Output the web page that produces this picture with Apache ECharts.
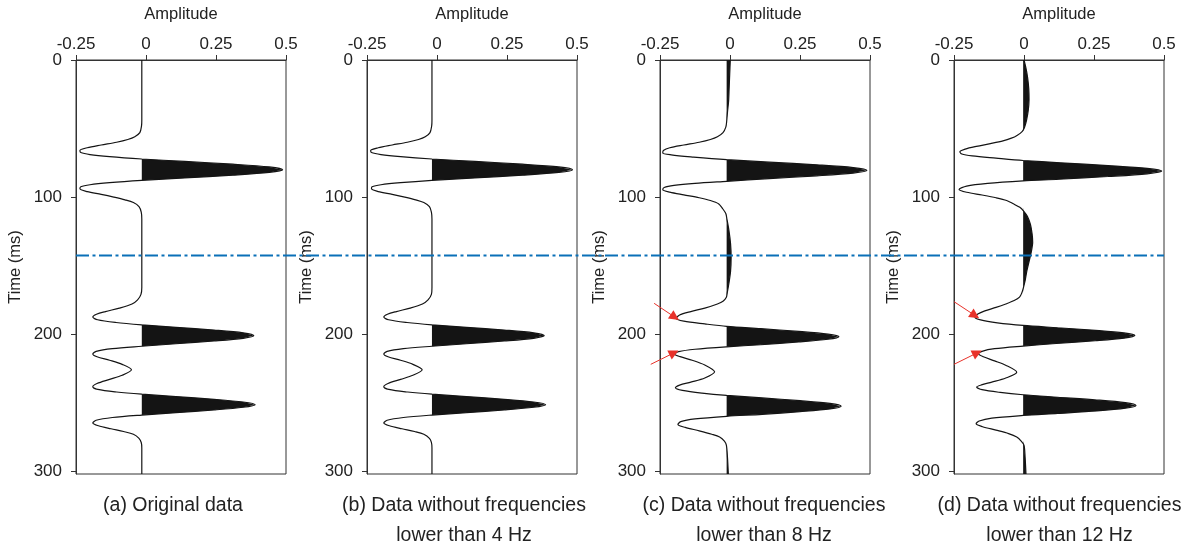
<!DOCTYPE html>
<html>
<head>
<meta charset="utf-8">
<script src="https://cdn.jsdelivr.net/npm/echarts@6/dist/echarts.min.js"></script>
<style>
  html, body { margin: 0; padding: 0; background: #fff; }
  #chart { width: 1190px; height: 553px; }
</style>
</head>
<body>
<div id="chart"></div>
<script>
// [time (ms), amplitude]
const traceA = [
  [0, -0.015], [44, -0.015], [48, -0.016], [53, -0.022], [56, -0.04], [58, -0.065], [60, -0.105], [62, -0.16],
  [64, -0.21], [66, -0.236], [67.5, -0.233], [69, -0.2], [70.5, -0.13], [72.2, -0.015], [74, 0.138], [76, 0.31],
  [78, 0.44], [80, 0.488], [82, 0.44], [84, 0.31], [86, 0.138], [87.8, -0.015], [89.5, -0.13], [91, -0.2],
  [92.5, -0.233], [94, -0.236], [96, -0.21], [98, -0.16], [100, -0.115], [102, -0.075], [104, -0.045], [107, -0.025],
  [111, -0.017], [116, -0.015], [166, -0.015], [171, -0.018], [175, -0.03], [178, -0.05], [181, -0.095], [183.5, -0.145],
  [185.5, -0.177], [187.5, -0.19], [189.5, -0.173], [191.5, -0.107], [193.2, -0.015], [195, 0.107], [197, 0.243], [199, 0.347],
  [201, 0.385], [203, 0.347], [205, 0.243], [207, 0.107], [208.8, -0.015], [210.5, -0.12], [212.5, -0.178], [214.5, -0.19],
  [216.5, -0.175], [219, -0.13], [222, -0.085], [226, -0.052], [230, -0.085], [233, -0.13], [236, -0.175], [238.3, -0.19],
  [240.3, -0.172], [242.2, -0.105], [243.8, -0.015], [245.5, 0.107], [247.5, 0.243], [249.5, 0.347], [251.4, 0.39], [253.3, 0.347],
  [255.3, 0.243], [257.3, 0.107], [259, -0.015], [260.8, -0.12], [262.8, -0.178], [264.8, -0.19], [266.8, -0.17], [269, -0.125],
  [271, -0.08], [273, -0.045], [276, -0.025], [279, -0.017], [283, -0.015], [302, -0.015]
];
const traceB = [
  [0, -0.018], [44, -0.018], [48, -0.019], [53, -0.025], [56, -0.042], [58, -0.066], [60, -0.106], [62, -0.16],
  [64, -0.21], [66, -0.237], [67.5, -0.234], [69, -0.2], [70.5, -0.13], [72.2, -0.018], [74, 0.135], [76, 0.305],
  [78, 0.435], [80, 0.484], [82, 0.435], [84, 0.305], [86, 0.135], [87.8, -0.018], [89.5, -0.13], [91, -0.2],
  [92.5, -0.232], [94, -0.234], [96, -0.21], [98, -0.16], [100, -0.115], [102, -0.076], [104, -0.047], [107, -0.027],
  [111, -0.02], [116, -0.018], [166, -0.018], [171, -0.02], [175, -0.032], [178, -0.052], [181, -0.096], [183.5, -0.145],
  [185.5, -0.177], [187.5, -0.19], [189.5, -0.173], [191.5, -0.107], [193.2, -0.018], [195, 0.105], [197, 0.24], [199, 0.345],
  [201, 0.383], [203, 0.345], [205, 0.24], [207, 0.105], [208.8, -0.018], [210.5, -0.12], [212.5, -0.178], [214.5, -0.19],
  [216.5, -0.175], [219, -0.13], [222, -0.086], [226, -0.053], [230, -0.086], [233, -0.13], [236, -0.175], [238.3, -0.19],
  [240.3, -0.172], [242.2, -0.105], [243.8, -0.018], [245.5, 0.105], [247.5, 0.24], [249.5, 0.345], [251.4, 0.388], [253.3, 0.345],
  [255.3, 0.24], [257.3, 0.105], [259, -0.018], [260.8, -0.12], [262.8, -0.178], [264.8, -0.19], [266.8, -0.17], [269, -0.125],
  [271, -0.08], [273, -0.047], [276, -0.027], [279, -0.02], [283, -0.018], [302, -0.018]
];
const traceC = [
  [0, 0.001], [10, -0.001], [20, -0.003], [30, -0.005], [38, -0.009], [45, -0.012], [49, -0.015], [53, -0.025],
  [56, -0.045], [58, -0.07], [60, -0.11], [62, -0.165], [64, -0.215], [66, -0.238], [67.8, -0.24], [69.2, -0.21],
  [70.8, -0.13], [72.7, -0.012], [74.5, 0.14], [76.5, 0.31], [78.5, 0.44], [80.5, 0.489], [82.5, 0.44], [84.5, 0.31],
  [86.5, 0.14], [88.5, -0.012], [90, -0.125], [91.5, -0.2], [93, -0.235], [94.6, -0.24], [96.4, -0.215], [98.4, -0.165],
  [100.5, -0.11], [102.5, -0.07], [105, -0.04], [108.5, -0.026], [112, -0.015], [116, -0.011], [124, -0.004], [134, 0.002],
  [144, 0.004], [154, 0.002], [163, -0.004], [170, -0.01], [173, -0.013], [176, -0.025], [178, -0.045], [181, -0.09],
  [183.5, -0.14], [186, -0.18], [188.6, -0.193], [190.5, -0.165], [192.5, -0.09], [194.3, -0.012], [196, 0.11], [198, 0.245],
  [200, 0.35], [201.8, 0.389], [203.7, 0.35], [205.7, 0.245], [207.7, 0.11], [209.2, -0.012], [211, -0.125], [212.7, -0.183],
  [214.4, -0.198], [216.4, -0.178], [219, -0.135], [222.5, -0.09], [227.5, -0.055], [232, -0.09], [235, -0.14], [237.2, -0.18],
  [239.1, -0.195], [241, -0.17], [243, -0.1], [244.7, -0.012], [246.5, 0.115], [248.5, 0.25], [250.5, 0.357], [252.5, 0.397],
  [254.5, 0.357], [256.5, 0.25], [258.5, 0.115], [259.9, -0.012], [261.8, -0.125], [263.8, -0.176], [265.9, -0.186], [268, -0.16],
  [270.5, -0.11], [273, -0.065], [275, -0.037], [278, -0.02], [281, -0.013], [290, -0.009], [302, -0.006]
];
const traceD = [
  [0, 0], [6, 0.007], [13, 0.013], [21, 0.017], [29, 0.018], [37, 0.015], [44, 0.009], [49, 0.002],
  [52, -0.006], [55, -0.025], [57, -0.045], [59, -0.075], [61, -0.12], [63, -0.17], [65, -0.21], [67, -0.229],
  [68.6, -0.222], [70, -0.185], [71.6, -0.1], [73.3, -0.003], [75, 0.13], [77, 0.3], [79, 0.44], [81, 0.492],
  [83, 0.44], [85, 0.3], [87, 0.125], [88.2, -0.003], [90, -0.13], [92, -0.205], [94.5, -0.232], [96.5, -0.205],
  [98.5, -0.15], [100.5, -0.1], [102.5, -0.062], [104.9, -0.038], [107.5, -0.015], [110, -0.002], [114, 0.012], [120, 0.023],
  [127, 0.029], [133, 0.031], [140, 0.026], [147, 0.018], [154, 0.01], [161, 0.004], [166, -0.002], [170, -0.008],
  [173, -0.016], [175.5, -0.035], [178, -0.065], [180.5, -0.1], [183, -0.14], [185.3, -0.165], [187.6, -0.175], [189.6, -0.155],
  [191.7, -0.095], [193.6, -0.003], [195.3, 0.12], [197.2, 0.255], [199.1, 0.357], [201, 0.396], [202.9, 0.357], [204.8, 0.255],
  [206.8, 0.115], [208.7, -0.003], [210.6, -0.105], [212.5, -0.15], [214.3, -0.163], [216.5, -0.145], [219.5, -0.105], [223, -0.062],
  [227.7, -0.026], [232, -0.065], [235, -0.115], [237, -0.152], [238.6, -0.169], [240.5, -0.15], [242.5, -0.085], [244.2, -0.003],
  [246, 0.12], [248, 0.26], [250, 0.362], [252, 0.4], [254, 0.362], [256, 0.26], [257.8, 0.12], [259.3, -0.003],
  [261.2, -0.115], [263.3, -0.16], [265.4, -0.171], [267.5, -0.148], [270, -0.1], [272.5, -0.055], [275, -0.026], [278, -0.01],
  [281, 0], [290, 0.004], [302, 0.007]
];
// amplitude the black fill starts from, per trace
const fillBase = [-0.015, -0.018, -0.012, -0.003];
const captions = [
  '(a) Original data',
  '(b) Data without frequencies\nlower than 4 Hz',
  '(c) Data without frequencies\nlower than 8 Hz',
  '(d) Data without frequencies\nlower than 12 Hz'
];
const timeTicks = [0, 100, 200, 300];
const markTime = 142.6;
// red arrows: [start, tip] as [amplitude, time]
const arrowsC = [[[-0.271, 177.5], [-0.197, 187.6]], [[-0.283, 222], [-0.2, 213.6]]];
const arrowsD = [[[-0.25, 176.3], [-0.175, 186.4]], [[-0.25, 222], [-0.167, 213.6]]];

const traces = [traceA, traceB, traceC, traceD];
const panelLeft = [76, 367, 660, 954];
const captionX = [173, 464, 764, 1059.5];
const font = "'Liberation Sans', Arial, sans-serif";
const ink = '#222';

const grids = [], xAxes = [], yAxes = [], series = [];
traces.forEach((trace, i) => {
  grids.push({ left: panelLeft[i], top: 60, width: 210, height: 414, show: true, borderColor: '#333', borderWidth: 1 });
  xAxes.push({
    gridIndex: i, type: 'value', position: 'top', min: -0.25, max: 0.5, interval: 0.25,
    name: 'Amplitude', nameLocation: 'middle', nameGap: 37,
    nameTextStyle: { fontFamily: font, fontSize: 16.5, color: ink },
    axisLine: { onZero: false, lineStyle: { color: '#333' } },
    axisTick: { show: true, length: 5, lineStyle: { color: '#333' } },
    axisLabel: { margin: 7, fontFamily: font, fontSize: 17, color: ink },
    splitLine: { show: false }
  });
  yAxes.push({
    gridIndex: i, type: 'value', inverse: true, min: 0, max: 302,
    name: 'Time (ms)', nameLocation: 'middle', nameGap: 52, nameRotate: 90,
    nameTextStyle: { fontFamily: font, fontSize: 16.5, color: ink },
    axisLine: { onZero: false, lineStyle: { color: '#333' } },
    axisTick: { show: true, length: 5, customValues: timeTicks, lineStyle: { color: '#333' } },
    axisLabel: { margin: 14, customValues: timeTicks, fontFamily: font, fontSize: 17, color: ink },
    splitLine: { show: false }
  });
  const base = fillBase[i];
  series.push({
    type: 'custom', xAxisIndex: i, yAxisIndex: i, data: [[0, 0]], silent: true, z: 2,
    renderItem: (params, api) => {
      const pts = trace.map(([t, a]) => api.coord([Math.max(a, base), t]));
      pts.push(api.coord([base, trace[trace.length - 1][0]]));
      pts.push(api.coord([base, trace[0][0]]));
      return { type: 'polygon', shape: { points: pts }, style: { fill: '#141414' } };
    }
  });
  series.push({
    type: 'line', xAxisIndex: i, yAxisIndex: i, z: 3, silent: true,
    data: trace.map(([t, a]) => [a, t]),
    smooth: 0.3, symbol: 'none',
    lineStyle: { color: '#141414', width: 1.2 }
  });
});

// overlay grid for the dash-dot marker line that runs across all panels
grids.push({ left: 76, top: 60, width: 1088, height: 414 });
xAxes.push({ gridIndex: 4, type: 'value', min: 0, max: 1, show: false });
yAxes.push({ gridIndex: 4, type: 'value', inverse: true, min: 0, max: 302, show: false });
series.push({
  type: 'line', xAxisIndex: 4, yAxisIndex: 4, z: 5, silent: true, symbol: 'none',
  data: [[0, markTime], [1, markTime]],
  lineStyle: { color: '#0a70b8', width: 2, type: [13, 3.5, 3, 3.5] }
});

[[2, arrowsC], [3, arrowsD]].forEach(([idx, arr]) => {
  series.push({
    type: 'lines', coordinateSystem: 'cartesian2d', xAxisIndex: idx, yAxisIndex: idx,
    clip: false, z: 6, silent: true,
    symbol: ['none', 'triangle'], symbolSize: 10,
    lineStyle: { color: '#e8322a', width: 1, opacity: 1 },
    itemStyle: { color: '#e8322a' },
    data: arr.map(c => ({ coords: c }))
  });
});

const chart = echarts.init(document.getElementById('chart'));
chart.setOption({
  animation: false,
  backgroundColor: '#fff',
  grid: grids,
  xAxis: xAxes,
  yAxis: yAxes,
  series: series,
  graphic: captions.map((c, i) => ({
    type: 'text', x: captionX[i], y: 491, silent: true,
    style: {
      text: c, fill: ink, fontSize: 19.5, fontFamily: font,
      align: 'center', textAlign: 'center', verticalAlign: 'top', lineHeight: 30
    }
  }))
});
</script>
</body>
</html>
